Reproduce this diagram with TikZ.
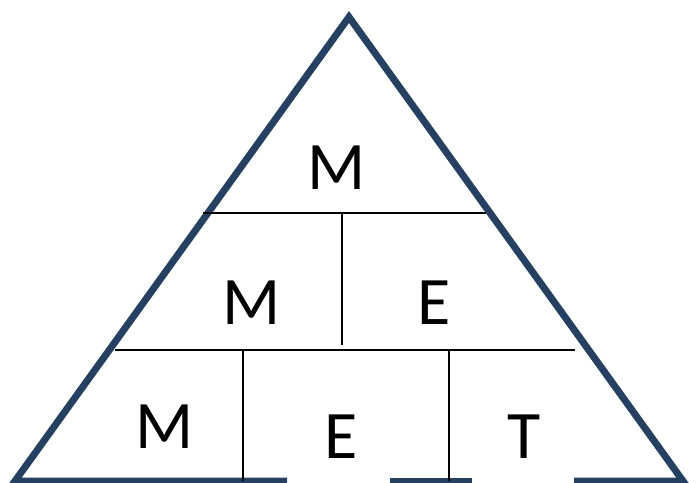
\documentclass[tikz,border=0pt]{standalone}
\usepackage{fontspec}
\setmainfont{Carlito}
\definecolor{triblue}{RGB}{37,64,97}
\begin{document}
\begin{tikzpicture}[
  x=1pt, y=-1pt,
  triside/.style = {line width=7pt, triblue, line join=miter},
  trirow/.style = {line width=1.6pt, black},
  trilbl/.style = {font=\fontsize{68}{68}\selectfont, inner sep=0pt}
]
  \useasboundingbox (0,0) rectangle (696,482);
  % corners
  \coordinate (apex) at (349,17);
  \coordinate (bl) at (15,481);
  \coordinate (br) at (683,481);
  % bottom gaps
  \coordinate (g1) at (287,481);
  \coordinate (g2) at (390,481);
  \coordinate (g3) at (472,481);
  \coordinate (g4) at (574,481);
  % triangle
  \draw[triside] (g1) -- (bl) -- (apex) -- (br) -- (g4);
  \draw[triside] (g2) -- (g3);
  % rows
  \coordinate (r1l) at (203,213);
  \coordinate (r1r) at (486,213);
  \coordinate (r2l) at (115,350);
  \coordinate (r2r) at (575,350);
  \draw[trirow] (r1l) -- (r1r);
  \draw[trirow] (r2l) -- (r2r);
  % dividers
  \coordinate (d1t) at (342,213);
  \coordinate (d1b) at (342,345);
  \coordinate (d2t) at (243,350);
  \coordinate (d2b) at (243,481);
  \coordinate (d3t) at (449,350);
  \coordinate (d3b) at (449,481);
  \draw[trirow] (d1t) -- (d1b);
  \draw[trirow] (d2t) -- (d2b);
  \draw[trirow] (d3t) -- (d3b);
  % labels
  \node[trilbl] (mtop) at (337,168) {M};
  \node[trilbl] (mmid) at (252,303) {M};
  \node[trilbl] (emid) at (434,303) {E};
  \node[trilbl] (mbot) at (165,427) {M};
  \node[trilbl] (ebot) at (341,437) {E};
  \node[trilbl] (tbot) at (524,437) {T};
\end{tikzpicture}
\end{document}
